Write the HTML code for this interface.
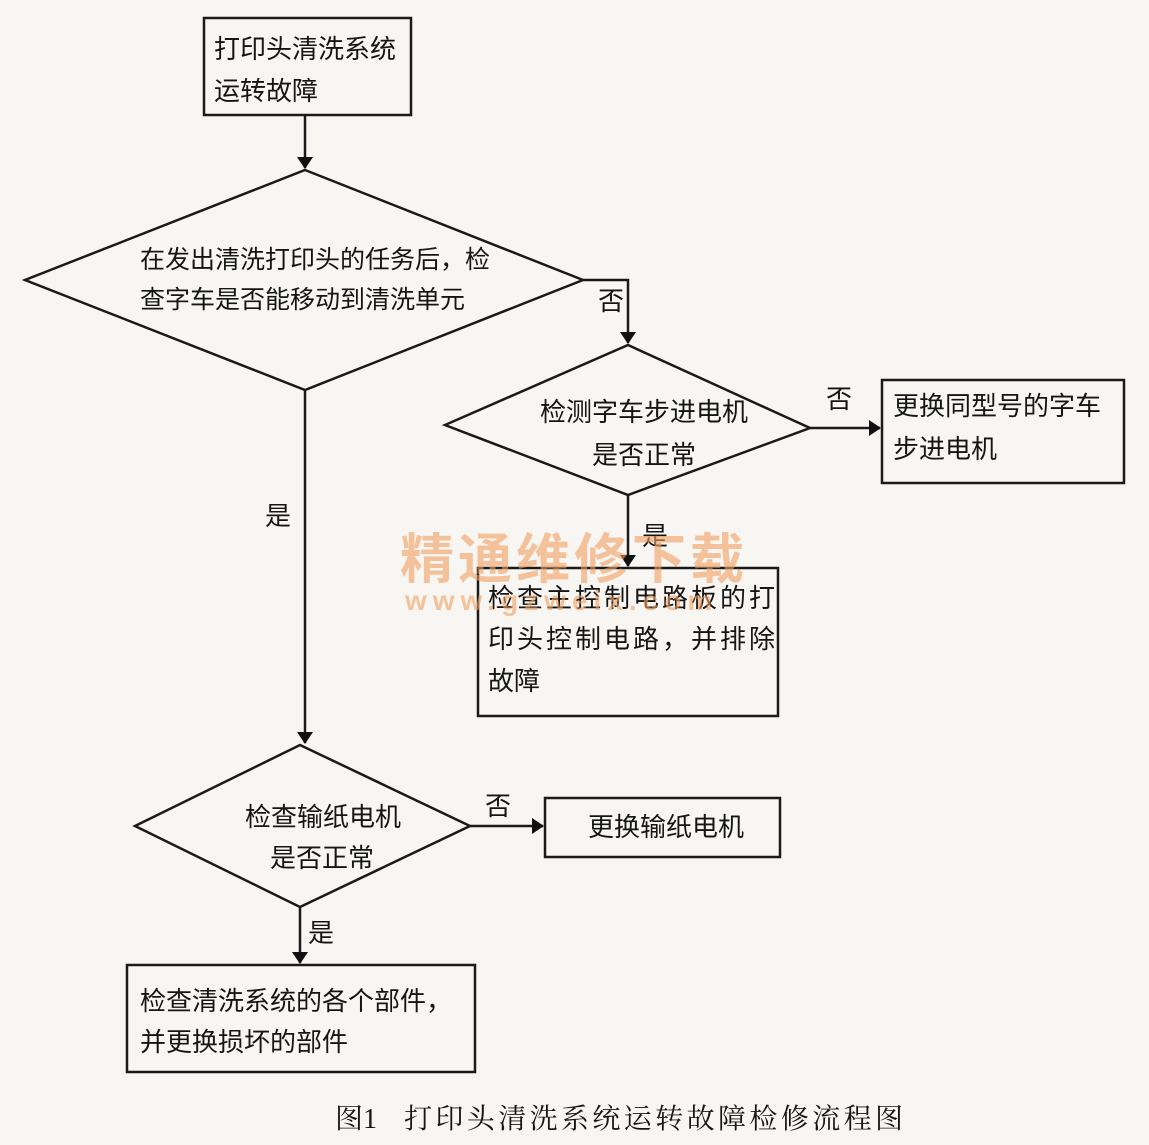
<!DOCTYPE html>
<html><head><meta charset="utf-8">
<style>
html,body{margin:0;padding:0;background:#f7f6f3;}
svg{display:block;}
text{font-family:"Liberation Sans","Noto Sans CJK SC",sans-serif;font-size:26px;fill:#151515;}
.cap{font-family:"Liberation Serif","Noto Serif CJK SC",serif;font-size:28px;}
</style></head><body>
<svg width="1149" height="1145" viewBox="0 0 1149 1145" xmlns="http://www.w3.org/2000/svg">
<defs><marker id="a" markerWidth="12" markerHeight="16" refX="11" refY="8" orient="auto" markerUnits="userSpaceOnUse"><path d="M0,0 L12,8 L0,16 z" fill="#111"/></marker></defs>
<g fill="none" stroke="#1a1a1a" stroke-width="2.5">
<rect x="204" y="18" width="207" height="97"/>
<path d="M305,115 V168" marker-end="url(#a)"/>
<polygon points="305,170 583,280 305,390 25,280"/>
<path d="M583,280 H628 V343" marker-end="url(#a)"/>
<polygon points="628,345 810,428 628,495 445,425"/>
<path d="M810,428 H880" marker-end="url(#a)"/>
<rect x="882" y="380" width="242" height="103"/>
<path d="M628,495 V566" marker-end="url(#a)"/>
<rect x="478" y="568" width="300" height="148"/>
<path d="M305,390 V743" marker-end="url(#a)"/>
<polygon points="300,745 470,826 300,907 135,826"/>
<path d="M470,826 H543" marker-end="url(#a)"/>
<rect x="545" y="798" width="235" height="59"/>
<path d="M300,907 V963" marker-end="url(#a)"/>
<rect x="127" y="965" width="348" height="107"/>
</g>
<text x="214" y="58">打印头清洗系统</text>
<text x="214" y="100">运转故障</text>
<text x="140" y="268" style="font-size:25px">在发出清洗打印头的任务后，检</text>
<text x="140" y="308" style="font-size:25px">查字车是否能移动到清洗单元</text>
<text x="598" y="310">否</text>
<text x="540" y="421">检测字车步进电机</text>
<text x="592" y="464">是否正常</text>
<text x="826" y="408">否</text>
<text x="893" y="415">更换同型号的字车</text>
<text x="893" y="458">步进电机</text>
<text x="642" y="545">是</text>
<text x="265" y="525">是</text>
<text x="488" y="607" letter-spacing="3">检查主控制电路板的打</text>
<text x="488" y="648" letter-spacing="3">印头控制电路，并排除</text>
<text x="488" y="690">故障</text>
<text x="245" y="826">检查输纸电机</text>
<text x="270" y="867">是否正常</text>
<text x="485" y="815">否</text>
<text x="588" y="836">更换输纸电机</text>
<text x="308" y="942">是</text>
<text x="140" y="1010">检查清洗系统的各个部件，</text>
<text x="140" y="1051">并更换损坏的部件</text>
<text x="400" y="578" style="font-size:54px;fill:#f0a060;fill-opacity:0.6;font-weight:bold" letter-spacing="4">精通维修下载</text>
<text x="405" y="610" style="font-size:28px;fill:#f0a060;fill-opacity:0.6;font-weight:bold" letter-spacing="6">www.gzweix.com</text>
<text class="cap" x="335" y="1128">图1</text>
<text class="cap" x="404" y="1128" letter-spacing="3.4">打印头清洗系统运转故障检修流程图</text>
</svg>
</body></html>
